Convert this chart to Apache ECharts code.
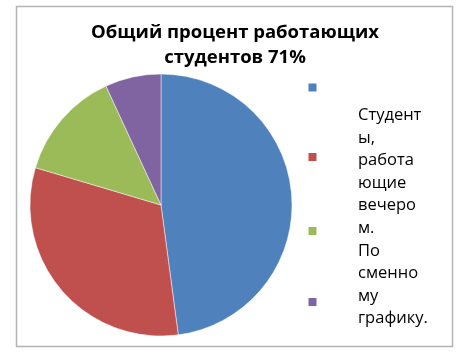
<!DOCTYPE html>
<html>
<head>
<meta charset="utf-8">
<script src="https://cdn.jsdelivr.net/npm/echarts@6/dist/echarts.min.js"></script>
<style>
html,body{margin:0;padding:0;background:#fff;}
#c{width:466px;height:358px;}
</style>
</head>
<body>
<div id="c"></div>
<script>
const titleLines = ['Общий процент работающих', 'студентов 71%'];
const categories = ['Категория 1', 'Категория 2', 'Категория 3', 'Категория 4'];
const values = [47.9, 31.7, 13.5, 6.9];
const colors = ['#4F81BD', '#C0504D', '#9BBB59', '#8064A2'];
const legendLines = ['Студент', 'ы,', 'работа', 'ющие', 'вечеро', 'м.', 'По', 'сменно', 'му', 'графику.'];

const chart = echarts.init(document.getElementById('c'), null, {renderer: 'canvas'});

const graphics = [
  {type: 'rect', shape: {x: 16.5, y: 6.5, width: 436, height: 340}, style: {fill: 'none', stroke: '#b4b4b4', lineWidth: 1.5}, z: 0},
  {type: 'text', x: 235, y: 32.5, style: {text: titleLines[0], font: 'bold 18.5px "Open Sans"', fill: '#000', textAlign: 'center', textVerticalAlign: 'middle'}},
  {type: 'text', x: 235, y: 57.5, style: {text: titleLines[1], font: 'bold 18.5px "Open Sans"', fill: '#000', textAlign: 'center', textVerticalAlign: 'middle'}}
];
const squareY = [87.5, 157, 231, 302];
colors.forEach((c, i) => {
  graphics.push({type: 'rect', shape: {x: 308.5, y: squareY[i] - 4, width: 8, height: 8}, style: {fill: c}});
});
legendLines.forEach((t, i) => {
  graphics.push({type: 'text', x: 358, y: 115.5 + i * 22.55, style: {text: t, font: '16.5px "Open Sans"', fill: '#000', textAlign: 'left', textVerticalAlign: 'middle'}});
});

chart.setOption({
  animation: false,
  color: colors,
  graphic: graphics,
  series: [{
    type: 'pie',
    center: [161, 205],
    radius: 131,
    startAngle: 90,
    clockwise: true,
    label: {show: false},
    labelLine: {show: false},
    itemStyle: {borderColor: 'rgba(255,255,255,0.6)', borderWidth: 0.8},
    emphasis: {disabled: true},
    data: categories.map((n, i) => ({name: n, value: values[i]}))
  }]
});
</script>
</body>
</html>
